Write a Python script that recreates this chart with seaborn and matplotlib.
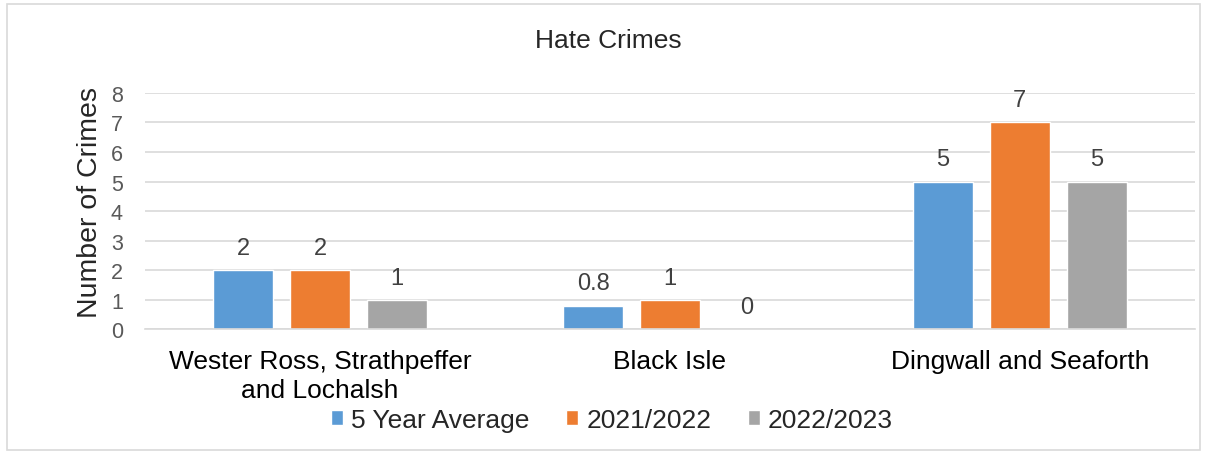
import pandas as pd
import seaborn as sns
import matplotlib.pyplot as plt
from matplotlib.patches import Patch

areas = ['Wester Ross, Strathpeffer\nand Lochalsh', 'Black Isle', 'Dingwall and Seaforth']
periods = ['5 Year Average', '2021/2022', '2022/2023']
avg_5yr = [2, 0.8, 5]
y2021_22 = [2, 1, 7]
y2022_23 = [1, 0, 5]
colors = ['#5B9BD5', '#ED7D31', '#A5A5A5']

df = pd.DataFrame({
    'area': areas * 3,
    'period': [p for p in periods for _ in areas],
    'crimes': avg_5yr + y2021_22 + y2022_23,
})

sns.set_style('white')
plt.rcParams['font.family'] = ['Liberation Sans', 'DejaVu Sans']

fig = plt.figure(figsize=(12.05, 4.56), dpi=100)
ax = fig.add_axes([0.1205, 0.276, 0.871, 0.518])

sns.barplot(data=df, x='area', y='crimes', hue='period', palette=colors,
            width=0.66, gap=0.22, ax=ax, legend=False, saturation=1)

# value labels
for cont in ax.containers:
    labels = [f'{v:g}' for v in cont.datavalues]
    ax.bar_label(cont, labels=labels, padding=8, fontsize=17, color='#404040')

ax.set_ylim(0, 8)
ax.set_yticks(range(0, 9))
ax.set_xlim(-0.5, 2.5)
ax.yaxis.grid(True, color='#d9d9d9', linewidth=1.2)
ax.set_axisbelow(True)
for s in ['top', 'right', 'left']:
    ax.spines[s].set_visible(False)
ax.spines['bottom'].set_color('#d9d9d9')
ax.spines['bottom'].set_linewidth(1.2)
ax.tick_params(axis='y', labelsize=15.5, labelcolor='#595959', length=0, pad=16)
ax.tick_params(axis='x', labelsize=19, labelcolor='black', length=0, pad=14)
for lbl in ax.get_xticklabels():
    lbl.set_linespacing(1.3)
ax.set_xlabel('')
ax.set_ylabel('Number of Crimes', fontsize=20.5)
ax.yaxis.set_label_coords(-0.040, 0.54)

fig.text(0.505, 0.91, 'Hate Crimes', ha='center', va='center', fontsize=19)

handles = [Patch(facecolor=c, label=p) for c, p in zip(colors, periods)]
fig.legend(handles=handles, loc='center', bbox_to_anchor=(0.508, 0.077), ncol=3,
           frameon=False, fontsize=19, handlelength=0.45, handleheight=0.45,
           handletextpad=0.3, columnspacing=1.4, borderpad=0)

# figure border
fig.patches.append(plt.Rectangle((0.006, 0.01), 0.99, 0.98, transform=fig.transFigure,
                                 fill=False, edgecolor='#d9d9d9', linewidth=1.2))

fig.savefig('out.png', dpi=100)
